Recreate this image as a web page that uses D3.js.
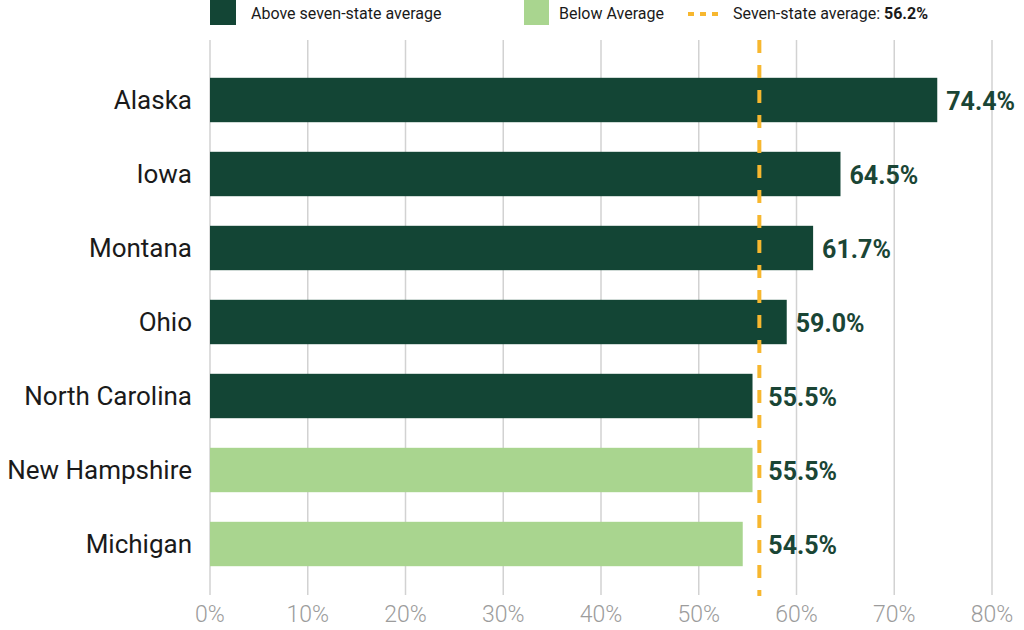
<!DOCTYPE html>
<html>
<head>
<meta charset="utf-8">
<script src="https://cdn.jsdelivr.net/npm/d3@7"></script>
<style>
  body { margin: 0; background: #fff; }
  svg { display: block; font-family: Roboto, "Noto Sans", sans-serif; }
</style>
</head>
<body>
<svg id="chart" width="1024" height="630"></svg>
<script>
var states = ["Alaska", "Iowa", "Montana", "Ohio", "North Carolina", "New Hampshire", "Michigan"];
var values = [74.4, 64.5, 61.7, 59.0, 55.5, 55.5, 54.5];
var groups = ["above", "above", "above", "above", "above", "below", "below"];
var average = 56.2;
var ticks = [0, 10, 20, 30, 40, 50, 60, 70, 80];

var colors = { above: "#134535", below: "#a9d58f", avg: "#f7b72f", grid: "#d2d2d2" };

var svg = d3.select("#chart");
var x = d3.scaleLinear().domain([0, 80]).range([210, 992]);
var y = d3.scaleBand().domain(states).range([63, 581]).paddingInner(0.4).paddingOuter(0.2);

// gridlines
svg.append("g")
  .selectAll("line")
  .data(ticks)
  .enter()
  .append("line")
  .attr("x1", function (d) { return x(d); })
  .attr("x2", function (d) { return x(d); })
  .attr("y1", 40)
  .attr("y2", 595)
  .attr("stroke", colors.grid)
  .attr("stroke-width", 1.5);

// tick labels
svg.append("g")
  .selectAll("text")
  .data(ticks)
  .enter()
  .append("text")
  .attr("x", function (d) { return x(d); })
  .attr("y", 622)
  .attr("text-anchor", "middle")
  .attr("fill", "#9c9c9c")
  .style("font-size", "23px")
  .style("font-weight", 300)
  .text(function (d) { return d + "%"; });

// bars
svg.append("g")
  .selectAll("rect")
  .data(states)
  .enter()
  .append("rect")
  .attr("x", x(0))
  .attr("y", function (d) { return y(d); })
  .attr("width", function (d, i) { return x(values[i]) - x(0); })
  .attr("height", y.bandwidth())
  .attr("fill", function (d, i) { return colors[groups[i]]; });

// average line
svg.append("line")
  .attr("x1", x(average))
  .attr("x2", x(average))
  .attr("y1", 40)
  .attr("y2", 596)
  .attr("stroke", colors.avg)
  .attr("stroke-width", 4)
  .attr("stroke-dasharray", "13,12");

// state labels
svg.append("g")
  .selectAll("text")
  .data(states)
  .enter()
  .append("text")
  .attr("x", 192)
  .attr("y", function (d) { return y(d) + y.bandwidth() / 2; })
  .attr("dy", "0.36em")
  .attr("text-anchor", "end")
  .attr("fill", "#1a1a1a")
  .style("font-size", "26px")
  .text(function (d) { return d; });

// value labels
svg.append("g")
  .selectAll("text")
  .data(states)
  .enter()
  .append("text")
  .attr("x", function (d, i) { return Math.max(x(values[i]), x(average)) + 9; })
  .attr("y", function (d) { return y(d) + y.bandwidth() / 2; })
  .attr("dy", "0.38em")
  .attr("fill", "#1a4535")
  .style("font-size", "25px")
  .style("font-weight", 700)
  .text(function (d, i) { return values[i].toFixed(1) + "%"; });

// legend
var legend = svg.append("g").style("font-size", "16px").attr("fill", "#1a1a1a");
legend.append("rect").attr("x", 210).attr("y", 0).attr("width", 26).attr("height", 25).attr("fill", colors.above);
legend.append("text").attr("x", 251).attr("y", 19).text("Above seven-state average");
legend.append("rect").attr("x", 524).attr("y", 0).attr("width", 25).attr("height", 25).attr("fill", colors.below);
legend.append("text").attr("x", 559).attr("y", 19).text("Below Average");
legend.append("line")
  .attr("x1", 688).attr("x2", 720).attr("y1", 14).attr("y2", 14)
  .attr("stroke", colors.avg).attr("stroke-width", 4).attr("stroke-dasharray", "6,6");
var t = legend.append("text").attr("x", 733).attr("y", 19);
t.append("tspan").text("Seven-state average: ");
t.append("tspan").style("font-weight", 700).text(average + "%");
</script>
</body>
</html>
